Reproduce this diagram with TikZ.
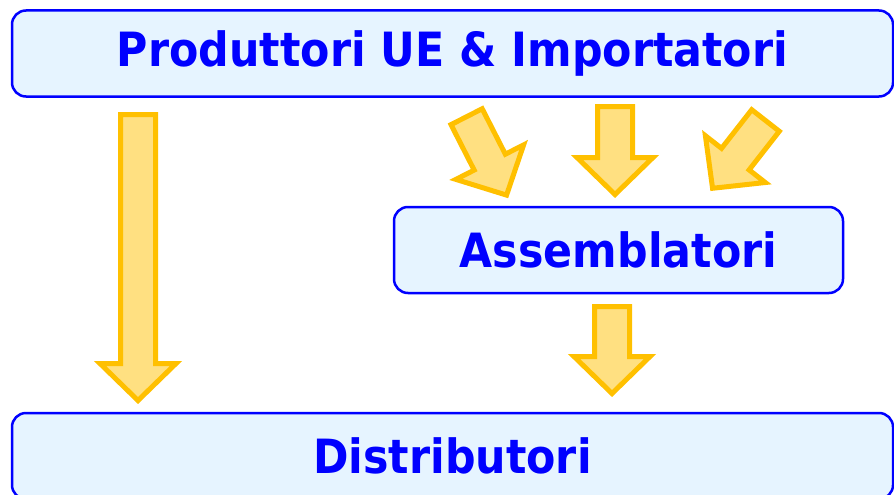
\documentclass[tikz,border=0pt]{standalone}
\usepackage{fontspec}
\usepackage{tikz}
\newfontfamily\boxfont[FakeStretch=0.906]{DejaVu Sans}
\definecolor{boxblue}{rgb}{0.0,0.0,1.0}
\definecolor{boxfill}{rgb}{0.902,0.957,1.0}
\definecolor{arrowgold}{rgb}{1.0,0.753,0.0}
\definecolor{arrowfill}{rgb}{1.0,0.878,0.506}

\begin{document}
\begin{tikzpicture}
  [x=1pt,y=-1pt,every node/.style={draw=boxblue,line width=2.5pt,fill=boxfill,rounded corners=14pt,
   text=boxblue,font=\boxfont\bfseries\fontsize{47.2}{50}\selectfont,inner sep=0pt,minimum height=86pt}]

  \clip (0,0) rectangle (894,495);

  \node[minimum width=881pt] (prod) at (452.5,53.5) {Produttori UE \& Importatori};
  \node[minimum width=449pt] (ass) at (618.5,250) {Assemblatori};
  \node[minimum width=881pt] (dist) at (452.5,456) {Distributori};

  \foreach \px/\py/\ang/\len in {138/114.5/0/286, 615/106.5/0/88, 612/306.5/0/87, 466.6/116.7/27/88, 765.5/120.5/-38/86}
    \draw[shift={(\px,\py)},rotate=\ang,draw=arrowgold,fill=arrowfill,line width=5pt]
      (-17.5,0) -- (17.5,0) -- (17.5,\len-37) -- (38,\len-37) -- (0,\len)
      -- (-38,\len-37) -- (-17.5,\len-37) -- cycle;
\end{tikzpicture}
\end{document}
